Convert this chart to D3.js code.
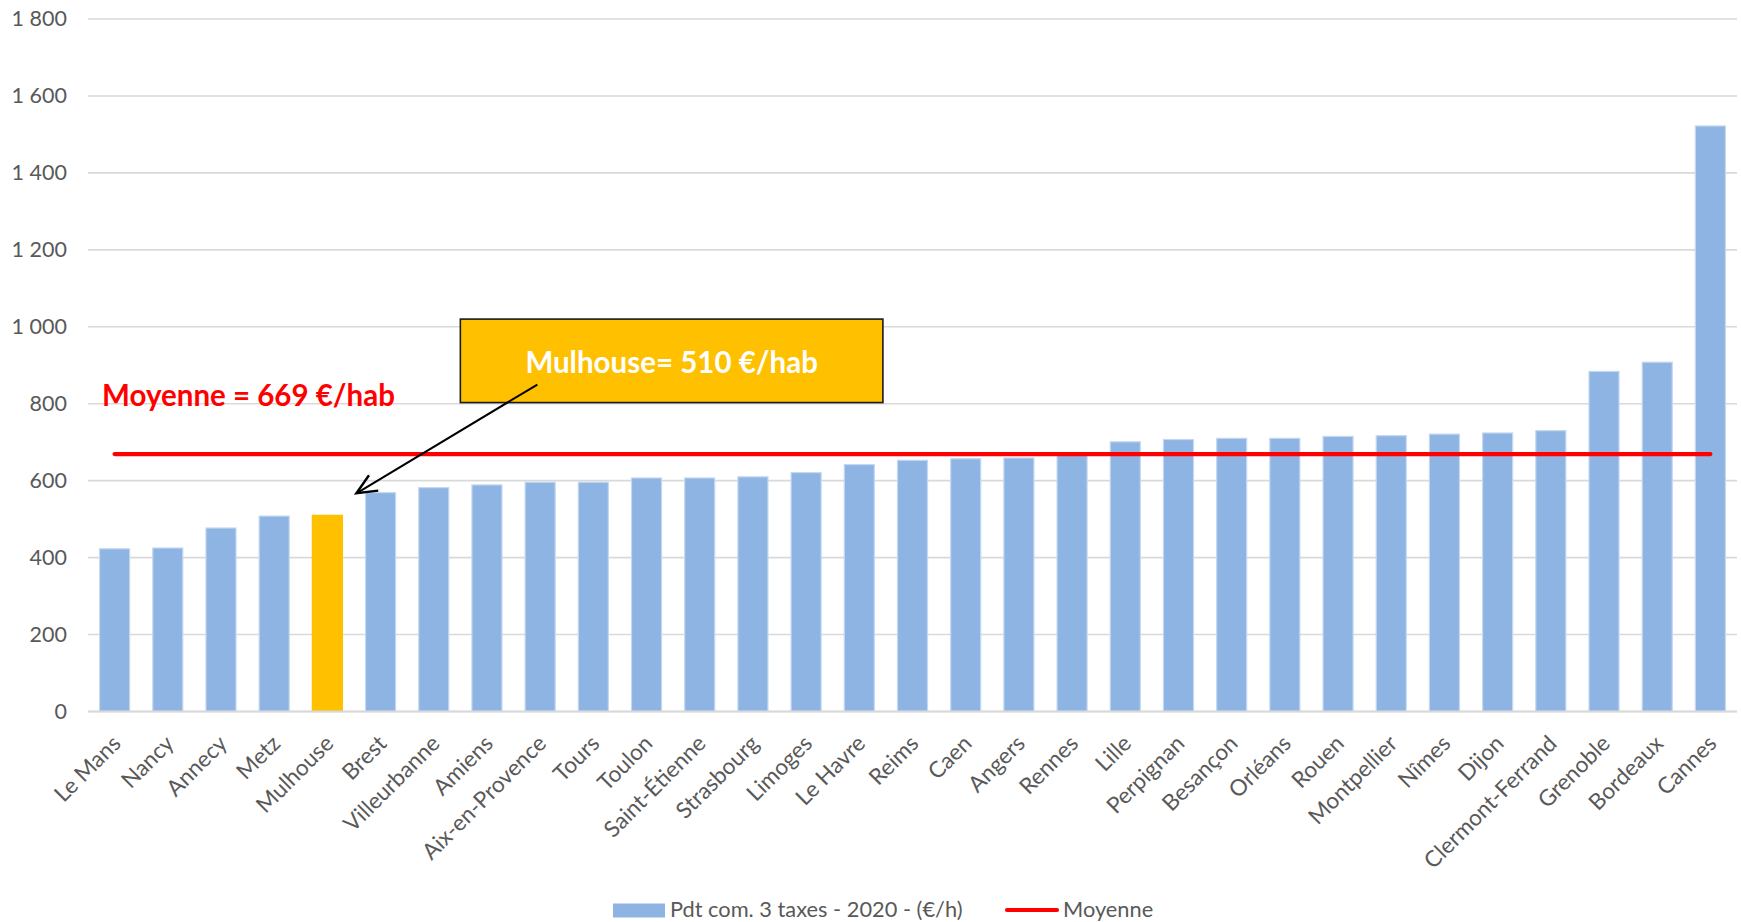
<!DOCTYPE html>
<html lang="fr">
<head>
<meta charset="utf-8">
<title>Produit communal des 3 taxes 2020 par habitant</title>
<script src="https://cdn.jsdelivr.net/npm/d3@7"></script>
<style>
  html, body { margin: 0; padding: 0; background: #ffffff; }
  svg { display: block; font-family: Lato, "Open Sans", "Noto Sans", sans-serif; }
</style>
</head>
<body>
<svg id="chart" width="1741" height="922"></svg>
<script>
// Villes, triées par produit croissant
const cities = [
  "Le Mans", "Nancy", "Annecy", "Metz", "Mulhouse", "Brest", "Villeurbanne",
  "Amiens", "Aix-en-Provence", "Tours", "Toulon", "Saint-Étienne", "Strasbourg",
  "Limoges", "Le Havre", "Reims", "Caen", "Angers", "Rennes", "Lille",
  "Perpignan", "Besançon", "Orléans", "Rouen", "Montpellier", "Nîmes", "Dijon",
  "Clermont-Ferrand", "Grenoble", "Bordeaux", "Cannes"
];

// Produit communal 3 taxes 2020, en €/habitant
const taxPerInhabitant = [
  423, 425, 477, 508, 510, 569, 582,
  589, 596, 596, 607, 607, 610,
  621, 642, 653, 657, 659, 667, 701,
  707, 710, 710, 715, 717, 721, 724,
  730, 884, 908, 1522
];

// Moyenne des villes (€/hab)
const averageValue = [669];

const yTicks = [0, 200, 400, 600, 800, 1000, 1200, 1400, 1600, 1800];

const highlightCity = "Mulhouse";
const seriesLabel = "Pdt com. 3 taxes - 2020 - (€/h)";
const averageLabel = "Moyenne";
const averageNote = "Moyenne = 669 €/hab";
const highlightNote = "Mulhouse= 510 €/hab";

const data = cities.map((c, i) => ({ city: c, value: taxPerInhabitant[i] }));

const svg = d3.select("#chart");
const plot = { left: 88, right: 1737, top: 19, bottom: 711.5 };

const x = d3.scaleBand()
  .domain(cities)
  .range([plot.left, plot.right])
  .paddingInner(0.435)
  .paddingOuter(0.2175);

const y = d3.scaleLinear()
  .domain([0, 1800])
  .range([plot.bottom, plot.top]);

const fmt = v => d3.format(",")(v).replace(/,/g, " ");

// Quadrillage horizontal
svg.append("g")
  .selectAll("line")
  .data(yTicks)
  .join("line")
  .attr("x1", plot.left)
  .attr("x2", plot.right)
  .attr("y1", d => y(d))
  .attr("y2", d => y(d))
  .attr("stroke", "#d9d9d9")
  .attr("stroke-width", 1.6);

// Axe vertical (libellés seulement)
const yAxis = svg.append("g")
  .attr("transform", `translate(${plot.left},0)`)
  .call(d3.axisLeft(y).tickValues(yTicks).tickFormat(fmt).tickSize(0).tickPadding(21));
yAxis.select(".domain").remove();
yAxis.selectAll("text")
  .attr("fill", "#595959")
  .style("font-size", "21.5px")
  .style("font-family", "Lato, 'Open Sans', sans-serif");

// Barres
svg.append("g")
  .selectAll("rect")
  .data(data)
  .join("rect")
  .attr("x", d => x(d.city))
  .attr("width", x.bandwidth())
  .attr("y", d => y(d.value))
  .attr("height", d => y(0) - y(d.value))
  .attr("fill", d => d.city === highlightCity ? "#ffc000" : "#8eb4e3")
  .attr("stroke", d => d.city === highlightCity ? "#ffc000" : "#c5d8f0")
  .attr("stroke-width", 1.2);

// Ligne de base
svg.append("line")
  .attr("x1", plot.left).attr("x2", plot.right)
  .attr("y1", y(0)).attr("y2", y(0))
  .attr("stroke", "#d9d9d9").attr("stroke-width", 1.8);

// Libellés des villes, inclinés à 45°
const xAxis = svg.append("g")
  .attr("transform", `translate(0,${y(0)})`)
  .call(d3.axisBottom(x).tickSize(0).tickPadding(0));
xAxis.select(".domain").remove();
xAxis.selectAll("text")
  .attr("fill", "#595959")
  .style("font-size", "22.5px")
  .style("font-family", "Lato, 'Open Sans', sans-serif")
  .attr("text-anchor", "end")
  .attr("y", 0)
  .attr("dy", "0.72em")
  .attr("transform", "translate(-4,22) rotate(-45)");

// Ligne de moyenne
const firstCenter = x(cities[0]) + x.bandwidth() / 2;
const lastCenter = x(cities[cities.length - 1]) + x.bandwidth() / 2;
svg.append("line")
  .attr("x1", firstCenter).attr("x2", lastCenter)
  .attr("y1", y(averageValue[0])).attr("y2", y(averageValue[0]))
  .attr("stroke", "#ff0000")
  .attr("stroke-width", 4.2)
  .attr("stroke-linecap", "round");

// Annotation de la moyenne
svg.append("text")
  .attr("x", firstCenter - 12.5)
  .attr("y", y(averageValue[0]) - 48)
  .attr("fill", "#ff0000")
  .style("font-size", "29.5px")
  .style("font-weight", "700")
  .style("font-family", "Lato, 'Open Sans', sans-serif")
  .text(averageNote);

// Encadré de Mulhouse
const step = x.step();
const boxLeft = plot.left + 7 * step;
const boxRight = plot.left + 15 * step - 3;
const boxTop = y(1020);
const boxBottom = y(803);
svg.append("rect")
  .attr("x", boxLeft)
  .attr("y", boxTop)
  .attr("width", boxRight - boxLeft)
  .attr("height", boxBottom - boxTop)
  .attr("fill", "#ffc000")
  .attr("stroke", "#1a1a1a")
  .attr("stroke-width", 1.6);

svg.append("text")
  .attr("x", (boxLeft + boxRight) / 2)
  .attr("y", boxTop + 54)
  .attr("text-anchor", "middle")
  .attr("fill", "#ffffff")
  .style("font-size", "29.5px")
  .style("font-weight", "700")
  .style("font-family", "Lato, 'Open Sans', sans-serif")
  .text(highlightNote);

// Flèche vers la barre de Mulhouse
const mul = data.find(d => d.city === highlightCity);
const tipX = x(highlightCity) + x.bandwidth() + 14;
const tipY = y(mul.value) - 22;
const startX = boxLeft + 77;
const startY = boxBottom - 18;
const ang = Math.atan2(startY - tipY, startX - tipX);
const headLen = 22, headSpread = Math.PI / 7.5;
svg.append("line")
  .attr("x1", startX).attr("y1", startY)
  .attr("x2", tipX).attr("y2", tipY)
  .attr("stroke", "#000").attr("stroke-width", 2);
svg.append("path")
  .attr("d", d3.line()([
    [tipX + headLen * Math.cos(ang - headSpread), tipY + headLen * Math.sin(ang - headSpread)],
    [tipX, tipY],
    [tipX + headLen * Math.cos(ang + headSpread), tipY + headLen * Math.sin(ang + headSpread)]
  ]))
  .attr("fill", "none")
  .attr("stroke", "#000")
  .attr("stroke-width", 2.4);

// Légende
const legend = svg.append("g").attr("transform", "translate(0,910)");
legend.append("rect")
  .attr("x", 613).attr("y", -6.5)
  .attr("width", 52).attr("height", 14)
  .attr("fill", "#8eb4e3");
legend.append("text")
  .attr("x", 670).attr("y", 6.5)
  .attr("fill", "#595959")
  .style("font-size", "21.8px")
  .text(seriesLabel);
legend.append("line")
  .attr("x1", 1007).attr("x2", 1057)
  .attr("y1", 0).attr("y2", 0)
  .attr("stroke", "#ff0000").attr("stroke-width", 4.2)
  .attr("stroke-linecap", "round");
legend.append("text")
  .attr("x", 1063).attr("y", 6.5)
  .attr("fill", "#595959")
  .style("font-size", "21.8px")
  .text(averageLabel);
</script>
</body>
</html>
